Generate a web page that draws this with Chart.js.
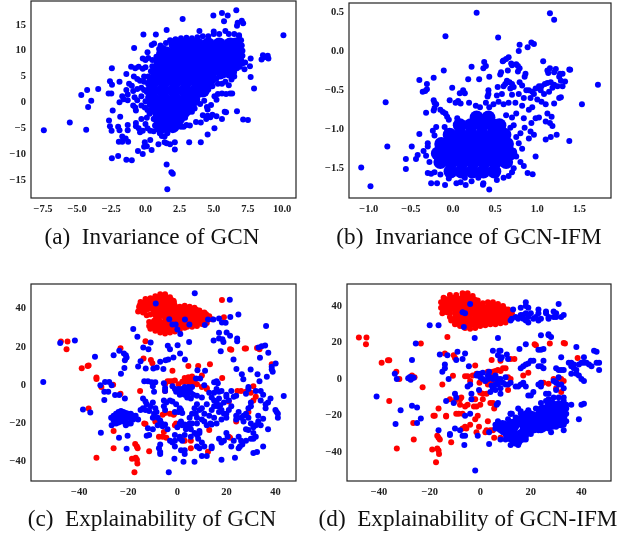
<!DOCTYPE html>
<html>
<head>
<meta charset="utf-8">
<script src="https://cdn.jsdelivr.net/npm/chart.js@4"></script>
<style>
  html, body { margin: 0; padding: 0; background: #fff; }
  #page { position: relative; width: 621px; height: 537px; overflow: hidden; }
  canvas { position: absolute; filter: blur(0.3px); }
  .cap { position: absolute; width: 320px; text-align: center; color: #111; white-space: nowrap;
         font: 23.2px "Liberation Serif", serif; }
</style>
</head>
<body>
<div id="page">
  <canvas id="a" width="310" height="225" style="left:0;top:0"></canvas>
  <canvas id="b" width="311" height="225" style="left:310px;top:0"></canvas>
  <canvas id="c" width="310" height="225" style="left:0;top:280px"></canvas>
  <canvas id="d" width="311" height="225" style="left:310px;top:280px"></canvas>
  <div class="cap" style="left:-8px;top:223px">(a)&nbsp; Invariance of GCN</div>
  <div class="cap" style="left:309px;top:223px">(b)&nbsp; Invariance of GCN-IFM</div>
  <div class="cap" style="left:-8px;top:505px">(c)&nbsp; Explainability of GCN</div>
  <div class="cap" style="left:308px;top:505px">(d)&nbsp; Explainability of GCN-IFM</div>
</div>
<script>
// Tick labels
const ticksAX = [-7.5, -5, -2.5, 0, 2.5, 5, 7.5, 10];
const ticksAY = [-15, -10, -5, 0, 5, 10, 15];
const ticksBX = [-1, -0.5, 0, 0.5, 1, 1.5];
const ticksBY = [-1.5, -1, -0.5, 0, 0.5];
const ticksCX = [-40, -20, 0, 20, 40];
const ticksCY = [-40, -20, 0, 20, 40];
const ticksDX = [-40, -20, 0, 20, 40];
const ticksDY = [-40, -20, 0, 20, 40];

// (a) saturated middle of the cloud, single points can't be read there
const gcnInvCore = [
  [2.2,11.2],[3,11.2],[3.8,11.2],[4.6,11.2],[5.4,11.2],[6.2,11.2],[6.6,11.2],
  [1.5,9.5],[2.3,9.5],[3.1,9.5],[3.9,9.5],[4.7,9.5],[5.5,9.5],[6.3,9.5],[6.7,9.5],
  [1.1,7.7],[1.9,7.7],[2.7,7.7],[3.5,7.7],[4.3,7.7],[5.1,7.7],[5.9,7.7],[6.6,7.7],
  [0.8,5.9],[1.6,5.9],[2.4,5.9],[3.2,5.9],[4,5.9],[4.8,5.9],[5.6,5.9],[6.2,5.9],
  [0.6,4.1],[1.4,4.1],[2.2,4.1],[3,4.1],[3.8,4.1],[4.6,4.1],
  [0.5,2.3],[1.3,2.3],[2.1,2.3],[2.9,2.3],[3.7,2.3],[4.2,2.3],
  [0.6,0.5],[1.4,0.5],[2.2,0.5],[3,0.5],[3.5,0.5],
  [0.8,-1.3],[1.6,-1.3],[2.4,-1.3],[3,-1.3],
  [1,-3.1],[1.8,-3.1],[2.4,-3.1],[1.3,-4.6],[2,-4.6]
];
const gcnInv = [
  [-7.44,-5.4],[-5.54,-3.9],[-4.34,-5.3],[-4.7,1.4],[-4.27,2.4],[-3.97,0.3],[-4.2,-0.9],[-3.46,2.6],
  [-2.7,1.7],[-2.5,1.7],[-2.6,4.1],[-2.45,3.4],[-2.46,6.6],[-2.4,-1.6],[-2.67,-3.5],[-2.6,-4.6],[-2.48,-5.5],
  [-2.46,-10.8],[-2,-10.4],[-1.4,-11.1],[-1,-11.2],[-2,-4.7],[-1.9,-5.4],[-1.85,-2.8],[-1.9,0],[-1.9,4],[-1.4,5.5],
  [-1.3,-4.4],[-1.3,-5.4],[-1.7,-6.6],[-1.45,-7],[-1.95,-7.6],[-1.7,-7.6],[-1.27,-7.6],
  [-0.83,10.5],[-0.15,13.1],[0.76,13.1],[1.55,14],[0.15,9.7],[0.46,11.1],[0.63,11.4],[2.72,16.1],
  [4.97,16.8],[5.6,17.3],[6.02,16.8],[6.65,17.8],[5.75,15.7],[7.05,15.8],[7.15,15.3],[6.75,15.4],[6.7,14.8],[6.85,13],
  [10.1,13],[7.7,8.5],[7.65,7],[7.25,6.4],[7.3,7.7],[7.7,4.9],[7.95,2.7],[8.5,8.3],[8.7,8.7],[8.95,9],[9,8.5],[8.6,9.1],
  [7.15,-3.3],[7.5,-3.4],[6.7,-1.7],[5.8,-1.8],[5.9,-1.9],[5.6,-3.2],[5.2,-2.7],[5.05,-5],[4.55,-6.2],[4.05,-7.7],[3.2,-7.7],
  [2.15,-7.7],[2.15,-9.1],[1.55,-12],[1.9,-13.5],[2,-13.8],[1.6,-16.8],[-0.2,-10],[-0.55,-9.4],[-0.05,-7.7],[-0.1,-8.6],[0.1,-8.5],[0.45,-9.2],
  [0.35,-7.3],[0.95,-8.1],[1.4,-7.7],[1.55,-7.9],[1.8,-8.1],
  [-1.05,6.9],[-0.75,6.6],[-0.5,6.9],[-0.2,6.5],[0,6.8],[-0.2,8.5],[0,8.2],[0.2,8.6],[-0.1,5],[-0.85,5],[-0.6,4.5],[-0.4,4.2],[-0.1,4],
  [-1.2,3.6],[-1,3.2],[-1.4,2.4],[-0.9,2.2],[-0.6,2.6],[-0.3,2.8],[-0.1,2.4],[-1.3,1.5],[-1.7,1.2],[-1.6,0.6],[-1.3,0.4],[-0.8,1],[-0.6,0.4],[-0.3,1.2],[0,0.2],
  [-0.9,-0.6],[-0.75,-1],[-0.7,-1.6],[-0.3,-0.6],[-0.05,-1],[0.15,-1.5],[-0.3,-3.2],[-0.7,-4],[-0.7,-4.6],[-0.5,-5],[-0.4,-5.8],[-0.2,-5.5],[0,-4.2],[0.15,-5],[0.35,-5.5],
  [0.1,-3],[0.3,-2.2],[0.6,-5.6],[0.85,-5.2],[1.05,-6],[1.2,-6.5],[1.4,-6.6],[1.6,-6],
  [3,-2.3],[3.4,-1.8],[3.6,-1.2],[4,-0.3],[4.3,0.3],[4.5,-0.9],[4.55,-1.4],[4.8,-0.5],[5.05,1.2],[5.2,0.5],[5.3,1.6],[5.6,1.7],[5.9,1.6],[6.2,1.7],[6.35,1.7],
  [4.2,-2.5],[4.55,-2.6],[4.75,-2.9],[4.9,-2.4],[4.45,-3.2],[3.7,-3.8],[4.05,-3.9],[3.25,-4.5],[3,-4.4],[2.8,-4.7],[2.6,-4.7],[2.5,-3.4],[2.9,-3],
  [3.9,1.4],[4.3,1.9],[4.6,2.5],[4.9,3.1],[5.3,3.6],[5.6,3.6],[5.85,4],[6.1,3.3],[6.3,4.4],[6.5,5],[4.8,4.5],[5,4.4],[5.5,5],[5.2,4.6],[6.7,6.6],[6.9,6.9],[7.1,7.5],[6.9,7.8],
  [1.1,11],[1.3,10.5],[1,10.3],[1.5,11.5],[1.8,12],[2.2,12.2],[2.6,12.4],[3,12.5],[3.4,12.4],[3.8,12.6],[3.95,13.8],[4.2,12.8],[4.6,12.8],[5,13.2],[5,13.7],[5.4,13.2],[5.85,13.8],[6.1,13.2],[6.5,13.2],[6.85,12.8],[7,12],[7.05,11],[7.1,10],[7.1,9],[7,8.3],
  [0.5,7],[0.4,6],[0.2,5],[0.2,3.5],[0.1,2],[0.2,1],[0.3,-0.5],[0.5,-1.5],[0.6,-3.2],[0.7,-4.5],[0.5,8.2],[0.8,8.8],[1,9.5]
];

// (b)
const ifmInvCore = [
  [0.28,-0.85],[0.42,-0.85],
  [0.08,-0.95],[0.21,-0.95],[0.34,-0.95],[0.47,-0.95],[0.55,-0.95],
  [-0.04,-1.07],[0.09,-1.07],[0.22,-1.07],[0.35,-1.07],[0.48,-1.07],[0.61,-1.07],
  [-0.14,-1.19],[-0.01,-1.19],[0.12,-1.19],[0.25,-1.19],[0.38,-1.19],[0.51,-1.19],[0.64,-1.19],
  [-0.18,-1.31],[-0.05,-1.31],[0.08,-1.31],[0.21,-1.31],[0.34,-1.31],[0.47,-1.31],[0.6,-1.31],[0.68,-1.31],
  [-0.15,-1.42],[-0.02,-1.42],[0.11,-1.42],[0.24,-1.42],[0.37,-1.42],[0.5,-1.42],[0.63,-1.42],
  [-0.03,-1.54],[0.1,-1.54],[0.23,-1.54],[0.36,-1.54],[0.49,-1.54]
];
const ifmInv = [
  [0.28,0.49],[1.15,0.485],[1.2,0.4],[-0.09,0.19],[0.535,0.175],[0.79,0.08],[0.78,0],[0.885,0.05],[0.93,0.11],[0.96,0.09],[1.07,-0.13],
  [0.37,-0.14],[0.36,-0.22],[0.39,-0.19],[0.22,-0.2],[-0.11,-0.25],[0.18,-0.36],[0.31,-0.36],[0.43,-0.33],[-0.23,-0.34],[-0.4,-0.37],[-0.31,-0.42],
  [-0.01,-0.47],[-0.31,-0.49],[-0.33,-0.51],[-0.36,-0.52],[-0.8,-0.655],[-0.78,-1.22],[-0.49,-1.22],[-0.4,-1.06],[-1.09,-1.49],[-0.98,-1.73],[-0.56,-1.38],[-0.56,-1.51],
  [1.72,-0.43],[1.53,-0.68],[1.38,-0.235],[1.39,-0.24],[1.38,-1.15],[1.23,-1.07],[1.16,-1.1],[1.1,-1.13],[0.98,-1.35],[0.945,-1.575],[0.885,-1.56],[0.84,-1.47],
  [0.43,-1.77],[0.355,-1.71],[0.36,-1.69],[-0.095,-1.715],[-0.26,-1.69],[-0.19,-1.69],[0.04,-1.69],[0.09,-1.68],[0.15,-1.715],[0.22,-1.665],
  [0.63,-0.1],[0.66,-0.08],[0.6,-0.12],[0.59,-0.13],[0.69,-0.16],[0.7,-0.18],[0.75,-0.17],[0.77,-0.19],[0.79,-0.22],[0.77,-0.26],[0.65,-0.25],[0.57,-0.27],[0.56,-0.3],[0.86,-0.29],[0.85,-0.33],
  [1.12,-0.25],[1.13,-0.28],[1.15,-0.22],[1.2,-0.27],[1.22,-0.23],[1.27,-0.29],[1.3,-0.29],[1.26,-0.33],[1.28,-0.38],[1.33,-0.39],[1.3,-0.45],[1.24,-0.45],[1.2,-0.43],[1.18,-0.47],[1.16,-0.4],[1.12,-0.41],[1.09,-0.42],[1.05,-0.45],[1.02,-0.45],
  [0.64,-0.38],[0.67,-0.4],[0.7,-0.42],[0.72,-0.46],[0.68,-0.48],[0.62,-0.42],[0.6,-0.45],[0.79,-0.4],[0.82,-0.44],[0.87,-0.5],[0.9,-0.5],[0.94,-0.52],[0.98,-0.48],[1.04,-0.5],[1.08,-0.55],[1.14,-0.52],
  [0.53,-0.46],[0.42,-0.5],[0.42,-0.55],[0.41,-0.58],[0.58,-0.55],[0.52,-0.57],[0.7,-0.56],[0.78,-0.55],[0.84,-0.6],[0.92,-0.6],[0.96,-0.55],[1,-0.62],[1.05,-0.65],[1.1,-0.68],[1.2,-0.67],[1.26,-0.6],[1.28,-0.59],
  [0.12,-0.5],[0.14,-0.54],[0.08,-0.54],[-0.04,-0.63],[0.03,-0.66],[0.06,-0.64],[0.09,-0.67],[0.19,-0.66],[-0.23,-0.63],[-0.22,-0.66],[-0.2,-0.68],[-0.22,-0.73],[-0.23,-0.76],[-0.32,-0.79],
  [-0.15,-0.75],[-0.12,-0.78],[-0.09,-0.8],[-0.07,-0.84],[-0.05,-0.88],[0.05,-0.86],[0.27,-0.7],[0.32,-0.72],[0.39,-0.66],[0.43,-0.72],[0.48,-0.68],[0.54,-0.65],[0.6,-0.68],[0.66,-0.66],[0.74,-0.66],[0.82,-0.7],[0.9,-0.75],[0.94,-0.72],
  [0.98,-0.86],[1.02,-0.85],[1.12,-0.8],[1.17,-0.84],[1.1,-0.9],[1.15,-0.92],[1.18,-0.96],[0.93,-0.92],[0.84,-0.86],[0.75,-0.8],[0.7,-0.85],[0.63,-0.82],[0.72,-0.95],[0.85,-0.98],[0.92,-1.03],[0.96,-1.07],[0.9,-1.12],[0.8,-1.05],[0.75,-1.1],[0.68,-0.98],
  [-0.22,-1.08],[-0.2,-0.97],[-0.24,-1.02],[-0.1,-0.97],[-0.07,-1.03],[-0.3,-1.18],[-0.3,-1.22],[-0.35,-1.28],[-0.42,-1.33],[-0.44,-1.38],[-0.32,-1.34],[-0.28,-1.42],[-0.3,-1.56],[-0.26,-1.57],[-0.22,-1.55],
  [-0.15,-1.58],[-0.05,-1.63],[0.65,-1.2],[0.78,-1.18],[0.82,-1.25],[0.72,-1.28],[0.75,-1.35],[0.8,-1.42],[0.72,-1.5],[0.7,-1.55],[0.66,-1.6],[0.6,-1.62],[0.52,-1.65],[0.3,-1.62],[0.14,-1.62]
];

// (c)
const gcnExpRedCore = [
  [-12.5,41.8],[-13.9,40.9],[-8.4,43.5],[-5.7,44.4],[-3,42.7],[-8.4,40],[-4.4,39.2],[-1,38.3],[3.1,38.3],[7.2,37.5],[10.6,35.7],
  [3.1,34.8],[7.2,34],[-0.3,34],[-8.4,32.2],[-4.4,31.4],[-1,31.4],[-5.7,30.5]
];
const gcnExpRed = [
  [-47.5,22.8],[-44.8,22.8],[-45.2,18.8],[-39,8.8],[-36.6,10],[-36.2,10.3],[-33,4],[-33,3.2],[-31,-1],[-26.2,0.2],[-23.2,-4.5],[-36.2,-12.2],[-26,-24],[-26,-33],[-33,-38],
  [-23.2,19.3],[-13,23],[-13.8,14],[-10.8,13.2],[-10.2,11.5],[-5,-3],[-15.2,-3],[-13.5,-20],[-13,-20.3],[-9,-19],[-11.5,-34.5],[-17.2,-30.8],[-16.5,-32],[-16.2,-33],[-18.5,-38.5],[-17,-38],[-16.5,-39],[-16.3,-41],[-17.5,-45.5],
  [18.2,44.5],[19,35.5],[21.5,18.8],[22,18.5],[27.5,19.2],[28,19.2],[32.5,19.5],[33.5,18.8],[38.5,11],[10,5],[13.3,11],[4.5,10],[8.5,10],[-2,7.5],[18.3,3.8],[12,-2],[31,-0.5],[24.5,-3],[26,-3],[28,-3.5],[30,-4],[32,-6],[31,-8],[21,-8.5],[29,-14],[24,-19],[13,-23.5],[21.5,-27.5],[21,-27],[5.5,-29],[5.5,-33],[3,-29],[2,-28.5],[12.5,-34.8],
  [-6,-15.5],[-5,-14.5],[-3,-15],[-1.5,-15.5],[-1,-14.5],[-0.5,-20],[-1,-21],[-5.5,-24.5],[-7.5,-27],[-6,-27],[-4.5,-27.5],[-8,-19],
  [-5,0.5],[-4,2],[-3,2],[-2,2],[-1,2.5],[0.5,0.5],[1,-2],[2,1.8],[3,1.8],[4,3],[5,3.5],[6,3],[7,2],[3,3.8],[4.5,4.2],[6,4.5],[5,1],[7,1],[8,0.5],[10,-1],[12,-1.5],
  [-16,38.5],[-15.5,41],[-15,43.5],[-13,45],[-11,45.5],[-9,46.5],[-7,47.5],[-5,47.5],[-3,46],[-1.5,44],[-1,41.5],[1,41],[3,41.5],[5,41],[7,40.5],[9,39],[11,38],[13,36],[14,34.5],[12,32.5],[10,32],[8,31],[6,30.5],[4,30.5],[2,31],
  [-12.5,36.5],[-14,38],[-11,37],[-9,36.5],[-7,36],[-5,35],[-3,35],[-11.5,33],[-11.5,31],[-11,29.5],[-9,28.5],[-7,27.5],[-5,27],[-3,27.5],[-1,28],[1,29],[3,30],[-2,37]
];
const gcnExp = [
  [-54.7,1.6],[-47.8,22],[-41.8,23.3],[-38.5,-12.7],[-35.5,-14.3],[-33.6,14.8],[-26,15.7],[-23.7,18],[-21.8,16.5],[-21,15.7],[-21.4,13],[-20.7,14.5],[-21.6,9],[-23,6],[-18,29.4],[-16.3,25.3],[-10.9,22.3],[-13.9,19.7],[-11.8,18.8],
  [-16,9.8],[-15,12.5],[-12.9,8.7],[-9.8,8.7],[-8.4,9.2],[-7,12.2],[-5.7,8.4],[-4.8,13],[-3.7,13.4],[-1.6,14.5],[1.1,16.5],[-3.9,20.6],[-3,18.8],[0.1,20.9],[3.1,13.4],[4.8,22.6],[7.1,48],[-8.8,42.7],[21.4,44.6],[21.6,35.7],[24.9,36.9],[36.2,31],
  [-3.3,34.5],[-2,31.7],[-0.7,31.7],[0,29.1],[1.2,26.7],[3.1,34.3],[4.9,31.7],[11.2,31.4],[12.5,34.3],[14.7,34.3],[17,34.8],[18.2,32.8],[19.7,32.6],
  [17,27.4],[20.1,27.5],[21.5,25.8],[14.8,23.3],[17,24.4],[18.4,24],[18.8,22.6],[17.7,17.8],[24.4,24.4],[24.4,23],[22.9,13.4],[24.1,8.5],[26.3,5.7],[26.9,3.1],[29.9,8.2],[32.7,5.7],[33.5,2.1],[36.5,4.4],[33.7,14.3],[37.1,17],[34.4,20.4],[35.8,20.7],[33.1,19.7],
  [38.5,9.6],[38.5,8.2],[38.9,7],[40.1,11.3],[43.4,-5.6],[8.2,7.8],[9.3,3.5],[11.3,7.5],[7.6,3.5],
  [-31.4,0],[-29.5,1.7],[-27.8,1.7],[-26.8,0],[-29.8,-3.5],[-28.2,-3.5],[-29.8,-7.8],[-25.4,-5.2],[-23.7,-5.2],[-21.4,-7],[-26.8,-20.9],[-23.8,-27.5],[-20.7,-33.3],[-20.3,-26.5],[-31.2,-24.9],
  [-27,-17],[-26,-16],[-25,-15],[-24,-14],[-23,-13.5],[-22,-14],[-21,-14.5],[-20,-15],[-19,-15],[-18,-16],[-17,-16],[-26,-18.5],[-25,-18],[-24,-17],[-23,-16.5],[-22,-16.5],[-21,-17],[-20,-17],[-19,-17.5],[-18,-18],[-16,-18],
  [-25,-20],[-24,-19.5],[-23,-19],[-22,-19],[-21,-19.5],[-20,-20],[-19,-20],[-21,-21],[-21,-16],[-23,-15],[-24.5,-16],
  [-13.5,2],[-12,2],[-10.5,1.5],[-10,-0.5],[-9,1.5],[-9.5,-3.5],[-5.5,1],[-5,-1.5],[-5,-3],[-2,-0.5],[-1,-2],[-0.5,-3.5],
  [0,-3],[0.5,-2],[1,-3],[1.5,-4],[2,-2],[2.5,-3],[3,-1],[3.5,-2],[4,-3],[4.5,-1],[5,-2],[5.5,-4],[2,-4.5],[3,-5],[4,-5],[1,-5],[6,-1],[6.5,-5],[8,-5.5],[4,-6.5],[5.5,-7],[10,-6.5],[11,0],[13,-4],
  [-14,-7],[-13,-8.5],[-12.5,-10],[-14,-12],[-15,-13],[-13,-13],[-11.5,-13.5],[-11,-11],[-10,-9],[-9,-12],[-8.5,-14],[-9.5,-15],[-10,-17],[-8,-17],[-7,-18.5],[-6.5,-20],[-5,-20.5],[-6,-21.5],[-8,-21],[-10,-23],[-12.5,-26.5],[-11.5,-26],[-12,-22.5],
  [-5.5,-8],[-4.5,-9],[-5.5,-11],[-3,-8],[-2,-8.5],[-5,-13],[-0.5,-10],[1,-12],[1.5,-13],[0.5,-14],[-1,-14],[2,-14.5],
  [1.5,-19],[1,-20],[3,-20.5],[2,-21],[4,-21],[5,-20],[6,-20],[5,-22],[5.5,-23],[3.5,-23],[8,-17],[7.5,-15],[6,-15],[5,-17],[7,-12],[8,-10],[9,-13],[10,-12],[11,-15],[10,-18],[8,-20],[12,-10],
  [14,-6.5],[15,-8],[16,-9],[17,-7],[15,-11],[16.5,-11],[17.5,-10.5],[14,-13],[13,-16],[15,-17],[17,-14],[18,-13],[19,-15],[18,-18],[16,-20],[14,-20.5],[20,-17],[13.5,-20],[11,-19],[12,-21],
  [18,-3],[17,-3.5],[16,-2],[15,-4],[16.5,1],[16,2],[15,1.5],[20,-6],[21,-8],[19,-9],[22,-11],[21,-13],[20,-15],[23,-6],[24,-5.5],[22,-3],[20,-5],
  [25,-14],[24,-16],[24,-18],[26,-17],[27,-16],[28,-15],[29,-17],[30,-20],[31,-22],[27,-19],[28,-23],[29,-23.5],[31,-25],[33,-19],[34,-21],[32,-21],[33,-16],[35,-17.5],[36,-10],[36,-12],[37,-9],[38,-7],
  [28,-4.5],[29,-2],[29,-1],[30,-9],[30,-11],[29,-12],[34,-8],[35,-5],[32,-3],[34,-3],[40,-13],[40.5,-14],[41,-15],[41,-17],[37,-23],
  [-1,-26],[1,-27],[1,-28],[-3,-29],[-2,-30],[-1,-29],[2,-29],[-1,-32],[1.5,-34],[3,-34],[3,-36],[-7,-31],[-7.5,-33],[-7,-35],[-7,-36],[-4,-23],[0,-22],[3,-26],[-1.2,-38.5],[2.5,-40],[7,-40],[10,-37],[12,-37],[14,-33],[14,-32],
  [8,-26],[9,-25],[7,-25],[8.5,-28],[9,-24],[10,-30],[11,-32],[9,-33],[8,-32],[5.5,-27],[18,-39],[18,-30],[17,-28],[19,-29],[20,-25],[20.5,-27],[22,-32],[23,-29],[25,-27],[26,-29],[26.5,-31],[25,-33],[23.5,-38],[25.5,-32],[28,-29],[30,-28],[31,-35.5],[32.5,-35],[35,-32],[31,-28],[32,-27],
  [-3.5,-45.5]
];

// (d)
const ifmExpRedCore = [
  [-13.3,41.5],[-10,42.4],[-6,43.4],[-2.8,41.5],[-13.3,38.8],[-8.7,38.8],[-4.1,37.9],[0.5,37.9],[4.5,38.8],[8.4,37],[10.4,35.2],
  [4.5,34.2],[1.2,33.3],[-8.7,32.4],[-4.7,31.5],[-1.4,31.5],[7.8,34.2]
];
const ifmExpRed = [
  [-48,22.8],[-45,22.8],[-45.2,19],[-39,9],[-36.5,10.3],[-36,10.3],[-33.2,4],[-32,0],[-27,0.5],[-27,2],[-26,1],[-22.8,-4.5],[-36,-12],[-26.5,-24],[-26.3,-33],[-33,-38],
  [-23.5,19.5],[-13,23],[-14,14],[-10.5,13],[-10,11.5],[-10.8,1.8],[-15,-3],[-12,-11],[-10,-12],[-8,-11],[-7.5,-10],[-8,-14],[-6,-15],[-5,-14],[-2.5,-15],[-1.5,-15],[0,-14],[1,-11],[-2,-11],[-3,-11],
  [-16.5,-16],[-18.5,-20],[-18,-20],[-13.5,-20],[-13.5,-20.5],[-9.5,-19],[-8.5,-19],[-7,-19],[-1,-20],[-2,-22],[-4,-25],[-5.5,-27],[-6,-26],[-7,-27],[-1.5,-29],[-0.5,-26],
  [-11.5,-34.5],[-17,-31],[-16.5,-32],[-16,-33],[-19,-38.5],[-17,-38],[-16.5,-39],[-16.3,-41],[-17.5,-45.5],
  [22,18.5],[21.5,19],[27.5,19.5],[33,19.8],[33.5,19.5],[38.5,11.5],[13.5,11],[4.5,10.5],[8,10],[12,11],[-2,7.5],[19,3.5],[17,2],[-6,1.5],[-5,1.5],[-3,2],[-1.5,3],
  [4,3],[5,4],[6,4.5],[7,5],[8,4.5],[9,6],[10,6],[3,4],[2,-1],[3,-3],[4,-2],[5,-3],[6,-2],[7,-1],[11,1],[12,0],[11,-6],[25,-2],[24,-3],[27,-2.5],[29,0],[30,-1],[32,0],[33,-1],[30,-5],[32,-7],
  [0,-7.5],[1,-8],[2.5,-8],[4,-13],[5,-13],[5.5,-16],[3,-23],[2.5,-28],[3,-28.5],[2,-29],[4,-28],[5,-28],[5.5,-32],[8,-32],[-0.3,-2],[-4,-1],[4,-1],
  [-15,36],[-15.5,39],[-15.5,42],[-14.5,44.5],[-12,46],[-9.5,46],[-7,47],[-5,47],[-3,45.5],[-1,43],[1,41.5],[3,42],[5,42],[7,41],[9,40],[11,38],[12.5,36],[12,33],[10,31],[8,30.5],[6,30],[4,30],[2,29.5],[0,29],[-2,28],[-4,27.5],[-6,28],[-8,29],[-10,30],[-11.5,32],[-12,34],[-10,36],[-12,36],[-2,35.5],[-6,35.5],[1,35]
];
const ifmExpCore = [
  [8.8,-26.2],[12.7,-25.5],[16.7,-23.1],[20.6,-21.3],[24.2,-20.4],[28.1,-19.5],[31.7,-20.4],[31.7,-15.8],[28.1,-14.9],[24.8,-17.7],[20.9,-25.9],[24.2,-25.5],[28.1,-24],[31.7,-23.1],
  [18.3,-27.7],[13,-31.3],[14.3,-33.2],[18.9,-20.4],[16.5,-31],[11.7,-30.4]
];
const ifmExp = [
  [-41,-9.5],[-33.5,-24.5],[-31.5,-17],[-27,-14.5],[-25,-15.5],[-25,-24],[-23.5,-21.5],[-33.8,3],[-33,0],[-28.5,0.5],[-27.8,1.2],[-27,1],[-26.3,0.8],[-27.5,-0.3],[-27,10.5],[-25.5,19.5],
  [-20,29.5],[-16.5,29.5],[-16,13.5],[-14,8],[-14,6],[-15,4],[-13,13],[-9,15],[-6,14],[-7,11],[-9.5,10.5],[-4.5,7],[-12.5,0],[-6,36],[-7,36.5],[-4,41],[-6.5,28.5],[-2.2,22.5],[7,22.5],[5,15.5],[8,15.5],[7.5,15.5],
  [7,13],[8,11],[8.5,12],[10.5,13.5],[11,11],[15.5,16.5],[-4,-3],[-5,-4],[-3.5,-8],[-3.5,-11],[-10,-8],[-9.5,-10],[-13.5,-12],[-10.5,-13],[-16.5,-28],[-12,-30],[-12,-30.5],[-10,-27],[-8,-28],[-7,-31],[-6,-31],[-6.3,-36],[-2,-50],
  [-6,-20],[-4,-19],[-1,-31],[3.5,-35.5],[3.5,-29],[8,-33],[6.5,-14],[7,-13],[12,-19],[12.5,-19],[15,-16],[16,-17.5],[4,-7],[6,-6],[8,-5],[10,-3],[7,0],
  [-1.5,2],[-1,3],[0,3],[1,3.5],[0,1],[1,0],[2,-1],[3,0],[3,2],[3.5,4],[4,1],[5,0],[6,2],[7,-1],[8,0],[9,-2],[10,1],[11,-3],[6,-3],[7,-3],[4.5,-3.5],[12,-2],[14,-4],[15,-4],[16,-3],[17,-2],[5,-5],[8,-8],[-0.5,-6],
  [18,42],[18,40],[13,38],[16,35],[14,34],[12.5,33],[12,32],[15,33],[17,35],[17,33],[18,36],[19,34],[18,32],[19,31],[22,34],[24,33],[26,36],[27,34],[27,33],[23,38],[26,37],[29,34],[30,36],[30,34],[31,41],[32,34],[33,35],[29,37],[23,32],[21,33],[20,36],[16,39],[23,36],[19,39],
  [24,24],[27,24.5],[27,24],[28,23],[23,16],[24,16],[25,16.5],[18,19],[18,8],[20,10],[21,10],[19,8.5],[17,7],[16,6],[23,7],[24,7],[25,6],[25,10],[32,12],[30,6],[31,5],[32,5],[33,5],[36,9],[35,9],[37,8],[36,7],[38,5],[37,6],[39,8],[40,9],[41,9],[42,9],[43,8],[44,7],[46,9],[47,9],[47,5],[46,15],[45,15.5],[41,12],[38,17.5],[36,3],[38,3],[39,2],[40,0],[41,-1],
  [24,-2],[24,-4],[23,-3],[18,-4],[19,-9],[20,-9],[21,-7],[26,-8],[27,-8],[29,-1],[30,-2],[31,-3],[31,1],[32,-3],[33,-5],[30,-6],[33,-10],[31,-13],[34,-14],[36,-14],[41,-13.5],[40,-14],[39,-22],[33,-28],[28,-29],[24,-28],[22,-26],
  [12,-19],[16,-19],[19,-17],[22,-16],[24,-13],[26,-12],[27,-11],[29,-10],[31,-10],[33,-12],[34,-16],[34,-19],[34,-23],[33,-25],[30,-26],[27,-27],[23,-28],[20,-30],[18,-33],[15,-36],[12,-36],[10,-33],[9,-29],[6,-25],[6,-27],[7,-23],[11,-22],[14,-21]
];

const frame = {
  id: 'frame',
  afterDatasetsDraw(chart) {
    const { ctx, chartArea: a } = chart;
    ctx.save();
    ctx.strokeStyle = '#222';
    ctx.lineWidth = 1.2;
    ctx.strokeRect(a.left, a.top, a.right - a.left, a.bottom - a.top);
    ctx.restore();
  }
};

const tickFont = { family: '"Liberation Serif", serif', size: 10.5, weight: 'bold' };
const minus = v => String(v).replace('-', '\u2212');

function axis(vals, min, max, fmt, fit) {
  return {
    type: 'linear', min, max,
    grid: { display: false, tickLength: 3, tickColor: '#222' },
    border: { display: false },
    afterBuildTicks: s => { s.ticks = vals.map(v => ({ value: v })); },
    afterFit: s => {
      // stop the first/last label from pushing the plot box in
      s.paddingTop = s.paddingBottom = s.paddingLeft = s.paddingRight = 0;
      fit(s);
    },
    ticks: { font: tickFont, color: '#222', autoSkip: false, maxRotation: 0, padding: 2, callback: v => minus(fmt(v)) }
  };
}

function panel(id, box, xTicks, yTicks, xr, yr, fx, fy, sets) {
  new Chart(document.getElementById(id), {
    type: 'scatter',
    data: {
      datasets: sets.map(s => ({
        data: s.pts.map(p => ({ x: p[0], y: p[1] })),
        backgroundColor: s.color, borderWidth: 0,
        pointRadius: s.r, pointHoverRadius: s.r, clip: true
      }))
    },
    options: {
      responsive: false, animation: false, events: [],
      layout: { autoPadding: false, padding: { top: box.top, right: box.right, left: 0, bottom: 0 } },
      plugins: { legend: { display: false }, tooltip: { enabled: false } },
      scales: {
        x: axis(xTicks, xr[0], xr[1], fx, s => { s.height = box.h; }),
        y: axis(yTicks, yr[0], yr[1], fy, s => { s.width = box.left; })
      }
    },
    plugins: [frame]
  });
}

const one = v => v.toFixed(1), int = v => v.toFixed(0);
const B = '#0000ff', R = '#ff0000', dot = 3, blob = 7;

panel('a', { left: 31, top: 1, right: 14, h: 27 }, ticksAX, ticksAY, [-8.38, 11.02], [-18.5, 19.6], one, int, [
  { pts: gcnInvCore, color: B, r: blob }, { pts: gcnInv, color: B, r: dot }
]);
panel('b', { left: 39, top: 3, right: 10, h: 27 }, ticksBX, ticksBY, [-1.235, 1.875], [-1.88, 0.615], one, one, [
  { pts: ifmInvCore, color: B, r: blob }, { pts: ifmInv, color: B, r: dot }
]);
panel('c', { left: 31, top: 4, right: 14, h: 24 }, ticksCX, ticksCY, [-59.7, 48.4], [-50.1, 52.9], int, int, [
  { pts: gcnExp, color: B, r: dot }, { pts: gcnExpRed, color: R, r: dot }, { pts: gcnExpRedCore, color: R, r: blob }
]);
panel('d', { left: 37, top: 4, right: 10, h: 24 }, ticksDX, ticksDY, [-52.7, 51.7], [-55.7, 52], int, int, [
  { pts: ifmExp, color: B, r: dot }, { pts: ifmExpCore, color: B, r: blob }, { pts: ifmExpRed, color: R, r: dot }, { pts: ifmExpRedCore, color: R, r: blob }
]);
</script>
</body>
</html>
